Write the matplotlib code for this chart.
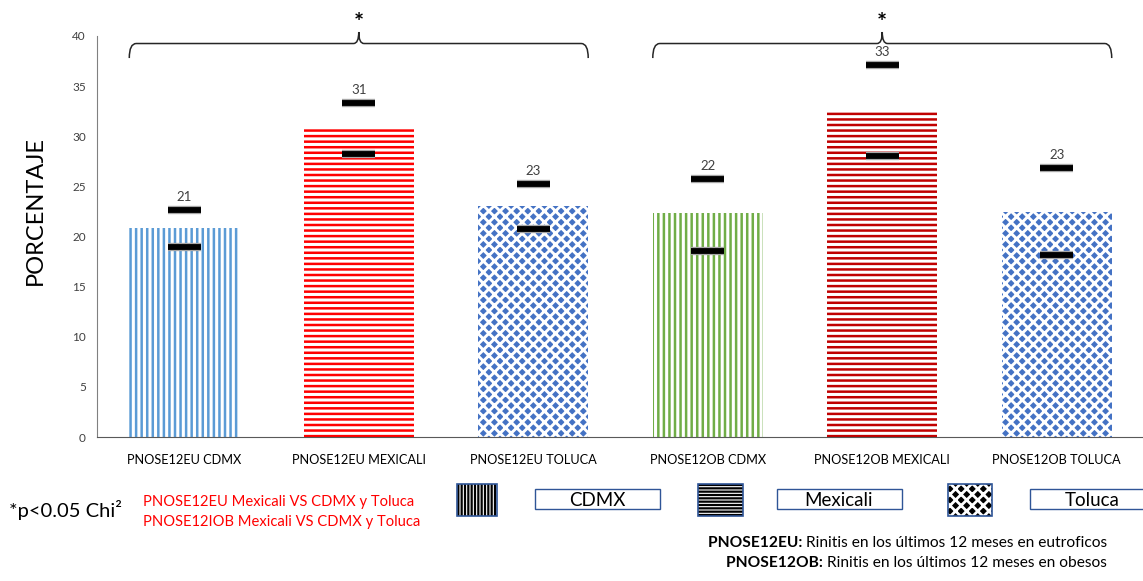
import numpy as np
import matplotlib.pyplot as plt
from matplotlib.patches import Rectangle
from matplotlib.path import Path
from matplotlib.patches import PathPatch
import matplotlib.patheffects as pe

plt.rcParams['font.family'] = ['Lato', 'DejaVu Sans']

categories = ['PNOSE12EU CDMX', 'PNOSE12EU MEXICALI', 'PNOSE12EU TOLUCA',
              'PNOSE12OB CDMX', 'PNOSE12OB MEXICALI', 'PNOSE12OB TOLUCA']
values = [20.8, 30.8, 23.0, 22.3, 32.6, 22.4]
labels = ['21', '31', '23', '22', '33', '23']
ci_low = [19.0, 28.2, 20.7, 18.6, 28.0, 18.2]
ci_high = [22.6, 33.3, 25.2, 25.7, 37.1, 26.8]

colors = ['#5B9BD5', '#FF0000', '#4472C4', '#70AD47', '#C00000', '#4472C4']
hatches = ['|||', '---', 'xxx', '|||', '---', 'xxx']

W, H = 1143, 581
fig = plt.figure(figsize=(W / 100, H / 100), dpi=100)
ax = fig.add_axes([97 / W, 1 - 437 / H, 1047 / W, 401 / H])


def hatch_lw(patch, lw):
    if hasattr(patch, 'set_hatch_linewidth'):
        patch.set_hatch_linewidth(lw)
    else:
        patch._hatch_linewidth = lw


x = np.arange(len(categories))
bw = 0.63
for i in range(len(categories)):
    if hatches[i].startswith('x'):
        b = ax.bar(x[i], values[i], bw, color=colors[i], edgecolor='white',
                   hatch=hatches[i], linewidth=0)
        hatch_lw(b[0], 2.1)
    else:
        b = ax.bar(x[i], values[i], bw, color='white', edgecolor=colors[i],
                   hatch=hatches[i], linewidth=0)
        hatch_lw(b[0], 1.8)

# marcas de intervalo
stroke = [pe.Stroke(linewidth=6, foreground='#a6a6a6'), pe.Normal()]
ax.hlines(ci_low, x - 0.095, x + 0.095, colors='black', linewidth=4.2,
          path_effects=stroke, zorder=3)
ax.hlines(ci_high, x - 0.095, x + 0.095, colors='black', linewidth=4.2,
          path_effects=stroke, zorder=3)

for i in range(len(categories)):
    ax.text(x[i], ci_high[i] + 1.3, labels[i], ha='center', va='center',
            fontsize=9.5, color='#404040')


# llaves con asterisco
def brace(x0, x1, xm):
    yb, yl, yt = 37.8, 39.25, 40.4
    verts = [(x0, yb), (x0, yl), (x0 + 0.04, yl), (xm - 0.03, yl),
             (xm, yl), (xm, yt), (xm, yl), (xm + 0.03, yl),
             (x1 - 0.04, yl), (x1, yl), (x1, yb)]
    codes = [Path.MOVETO, Path.CURVE3, Path.CURVE3, Path.LINETO,
             Path.CURVE3, Path.LINETO, Path.CURVE3, Path.CURVE3,
             Path.LINETO, Path.CURVE3, Path.CURVE3]
    ax.add_patch(PathPatch(Path(verts, codes), fill=False, lw=1.1,
                           color='#262626', clip_on=False))
    ax.text(xm, 41.2, '*', ha='center', va='center', fontsize=17,
            fontweight='bold', color='black', clip_on=False)


brace(x[0] - bw / 2, x[2] + bw / 2, x[1])
brace(x[3] - bw / 2, x[5] + bw / 2, x[4])

ax.set_xlim(-0.5, 5.5)
ax.set_ylim(0, 40)
ax.set_yticks(range(0, 41, 5))
ax.set_xticks(x)
ax.set_xticklabels(categories, fontsize=9.2)
ax.tick_params(axis='y', length=0, labelsize=8.5, pad=8, labelcolor='#404040')
ax.tick_params(axis='x', length=0, pad=12, labelcolor='black')
for s in ['top', 'right']:
    ax.spines[s].set_visible(False)
ax.spines['left'].set_color('#808080')
ax.spines['bottom'].set_color('#595959')
ax.set_ylabel('PORCENTAJE', fontsize=17)
ax.yaxis.set_label_coords(-0.049, 0.565)


# leyenda inferior
def fx(px):
    return px / W


def fy(py):
    return 1 - py / H


fig.text(fx(9), fy(510), '*p<0.05 Chi²', fontsize=14.5, va='center')
fig.text(fx(143), fy(502), 'PNOSE12EU Mexicali VS CDMX y Toluca', fontsize=10.6,
         color='#FF0000', va='center')
fig.text(fx(143), fy(522), 'PNOSE12IOB Mexicali VS CDMX y Toluca', fontsize=10.6,
         color='#FF0000', va='center')

swatches = [(457, 40, '|||||', 'CDMX', 535), (698, 45, '-----', 'Mexicali', 777),
            (948, 44, 'xxx', 'Toluca', 1030)]
for sx, sw, h, name, bx in swatches:
    if h.startswith('x'):
        p = Rectangle((fx(sx), fy(516)), sw / W, 32 / H,
                      transform=fig.transFigure, facecolor='black',
                      edgecolor='white', hatch=h, lw=0)
        hatch_lw(p, 2.0)
    else:
        p = Rectangle((fx(sx), fy(516)), sw / W, 32 / H,
                      transform=fig.transFigure, facecolor='white',
                      edgecolor='black', hatch=h, lw=0)
        hatch_lw(p, 1.6)
    fig.add_artist(p)
    fig.add_artist(Rectangle((fx(sx), fy(516)), sw / W, 32 / H,
                             transform=fig.transFigure, fill=False,
                             edgecolor='#2F5597', lw=1.2))
    fig.add_artist(Rectangle((fx(bx), fy(509)), 125 / W, 20 / H,
                             transform=fig.transFigure, facecolor='white',
                             edgecolor='#2F5597', lw=1.0))
    fig.text(fx(bx + 62), fy(500), name, fontsize=13.5, ha='center', va='center')

t1 = fig.text(fx(1107), fy(543), 'Rinitis en los últimos 12 meses en eutroficos',
              fontsize=11.2, ha='right', va='center')
t2 = fig.text(fx(1107), fy(563), 'Rinitis en los últimos 12 meses en obesos',
              fontsize=11.2, ha='right', va='center')
fig.canvas.draw()
r = fig.canvas.get_renderer()
for t, lab in [(t1, 'PNOSE12EU: '), (t2, 'PNOSE12OB: ')]:
    bb = t.get_window_extent(renderer=r)
    fig.text(bb.x0 / W, t.get_position()[1], lab,
             fontsize=11.2, fontweight='bold', ha='right', va='center')

fig.savefig('out.png', dpi=100)
